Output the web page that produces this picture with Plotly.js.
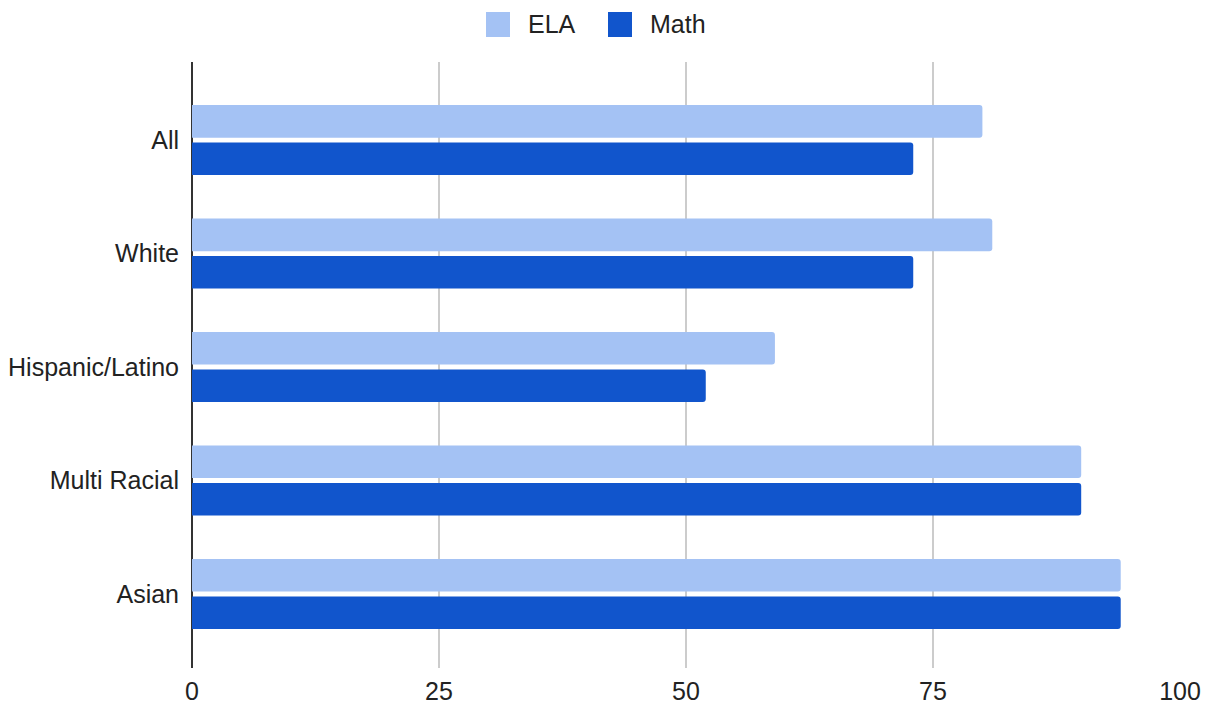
<!DOCTYPE html>
<html>
<head>
<meta charset="utf-8">
<script src="https://cdn.plot.ly/plotly-3.0.1.min.js"></script>
<style>
  html, body { margin: 0; padding: 0; background: #fff; }
  #chart { width: 1212px; height: 706px; }
</style>
</head>
<body>
<div id="chart"></div>
<script>
// Student groups and their scores by subject
const groups = ["All", "White", "Hispanic/Latino", "Multi Racial", "Asian"];
const elaScores = [80, 81, 59, 90, 94];
const mathScores = [73, 73, 52, 90, 94];
const xTicks = [0, 25, 50, 75, 100];

const ELA_COLOR = "#a4c2f4";
const MATH_COLOR = "#1155cc";
const FONT = "Arial, 'Liberation Sans', sans-serif";
const TEXT_COLOR = "#222222";
const FONT_SIZE = 25;

const traces = [
  {
    type: "bar", orientation: "h", name: "ELA",
    y: groups, x: elaScores,
    marker: { color: ELA_COLOR },
    hoverinfo: "x+y+name"
  },
  {
    type: "bar", orientation: "h", name: "Math",
    y: groups, x: mathScores,
    marker: { color: MATH_COLOR },
    hoverinfo: "x+y+name"
  }
];

// Legend drawn along the top centre: colour swatch followed by its label
const legendItems = [
  { label: "ELA", color: ELA_COLOR, x0: 486 },
  { label: "Math", color: MATH_COLOR, x0: 608 }
];
const W = 1212, H = 706;
const M = { l: 192, r: 32, t: 62, b: 38 };
const px = v => (v - M.l) / (W - M.l - M.r);
const py = v => 1 + (M.t - v) / (H - M.t - M.b);
const shapes = legendItems.map(it => ({
  type: "rect", xref: "paper", yref: "paper", layer: "above",
  x0: px(it.x0), x1: px(it.x0 + 24),
  y0: py(37), y1: py(12),
  fillcolor: it.color, line: { width: 0 }
}));
const annotations = legendItems.map(it => ({
  xref: "paper", yref: "paper",
  x: px(it.x0 + 40), y: py(24.5),
  xanchor: "left", yanchor: "middle",
  text: it.label, showarrow: false,
  font: { family: FONT, size: FONT_SIZE, color: TEXT_COLOR }
}));

const layout = {
  width: W, height: H,
  margin: M,
  paper_bgcolor: "#ffffff", plot_bgcolor: "#ffffff",
  font: { family: FONT, size: FONT_SIZE, color: TEXT_COLOR },
  barmode: "group",
  bargap: 0.34,
  bargroupgap: 0.13,
  barcornerradius: 3,
  showlegend: false,
  xaxis: {
    range: [0, 100],
    tickvals: xTicks,
    ticktext: xTicks.map(String),
    showgrid: true, gridcolor: "#cccccc", gridwidth: 1.5,
    zeroline: true, zerolinecolor: "#333333", zerolinewidth: 1.5,
    showline: false, ticks: "",
    ticklabelstandoff: 6,
    tickfont: { family: FONT, size: FONT_SIZE, color: TEXT_COLOR },
    fixedrange: true
  },
  yaxis: {
    type: "category",
    range: [4.652, -0.688],
    showgrid: false, zeroline: false, showline: false, ticks: "",
    ticklabelstandoff: 12,
    tickfont: { family: FONT, size: FONT_SIZE, color: TEXT_COLOR },
    fixedrange: true
  },
  shapes: shapes,
  annotations: annotations
};

Plotly.newPlot("chart", traces, layout, { displayModeBar: false, staticPlot: true });
</script>
</body>
</html>
